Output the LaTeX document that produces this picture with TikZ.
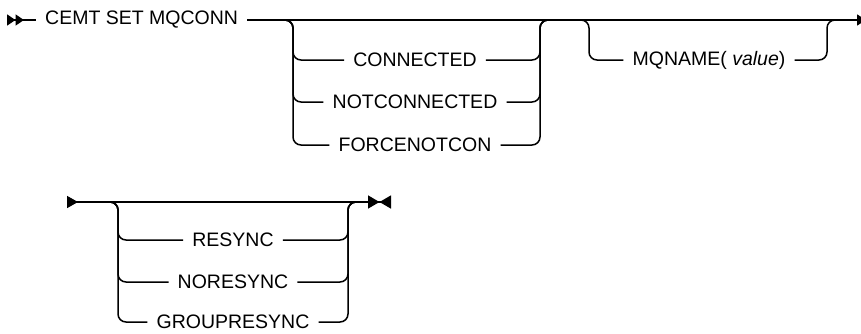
\documentclass[tikz,border=0pt]{standalone}
\usepackage{fontspec}
\setmainfont{Liberation Sans}
\usepackage{tikz}
\usetikzlibrary{arrows.meta,positioning,calc}

\begin{document}
\begin{tikzpicture}[
  x=1pt,y=-1pt,
  font=\fontsize{19.5}{22}\selectfont,
  kw/.style={inner xsep=9pt,inner ysep=0pt,anchor=center},
  rail/.style={line width=1.5pt,rounded corners=8pt},
  startarr/.style={{Triangle[reversed,length=8.5pt,width=11pt]Triangle[reversed,length=8.5pt,width=11pt]}-},
  contarr/.style={-{Triangle[length=9pt,width=11pt]}},
  begarr/.style={{Triangle[reversed,length=11pt,width=12pt]}-},
  endarr/.style={-{Triangle[length=11.5pt,width=13pt]Triangle[reversed,length=11.5pt,width=13pt]}}
]
\useasboundingbox (0,0) rectangle (861,333);

% first line
\coordinate (start) at (7,20);
\node[kw,anchor=west] (cmd) at (36,20) {CEMT SET MQCONN};
\coordinate (b1l) at (293,20);
\coordinate (b1r) at (540,20);
\coordinate (b2l) at (589,20);
\coordinate (b2r) at (827,20);
\coordinate (cont) at (866,20);

\node[kw] (con) at (415,60) {CONNECTED};
\node[kw] (notcon) at (415,102) {NOTCONNECTED};
\node[kw] (force) at (415,145) {FORCENOTCON};
\node[kw] (mqname) at (709,60) {MQNAME( \textit{value})};

\draw[rail,startarr] (start) -- (cmd.west);
\draw[rail,contarr] (cmd.east) -- (cont);
\foreach \n in {con,notcon,force}
  \draw[rail] ([xshift=-10pt]b1l) -- (b1l) |- (\n.west)
              (\n.east) -| (b1r) -- ([xshift=10pt]b1r);
\draw[rail] ([xshift=-10pt]b2l) -- (b2l) |- (mqname.west)
            (mqname.east) -| (b2r) -- ([xshift=10pt]b2r);

% second line
\coordinate (start2) at (67,202);
\coordinate (b3l) at (118,202);
\coordinate (b3r) at (348,202);
\coordinate (stop) at (391,202);

\node[kw] (resync) at (233,240) {RESYNC};
\node[kw] (noresync) at (233,282) {NORESYNC};
\node[kw] (group) at (233,322) {GROUPRESYNC};

\draw[rail,begarr] (start2) -- (b3l);
\draw[rail,endarr] (b3l) -- (stop);
\foreach \n in {resync,noresync,group}
  \draw[rail] ([xshift=-10pt]b3l) -- (b3l) |- (\n.west)
              (\n.east) -| (b3r) -- ([xshift=10pt]b3r);
\end{tikzpicture}
\end{document}
